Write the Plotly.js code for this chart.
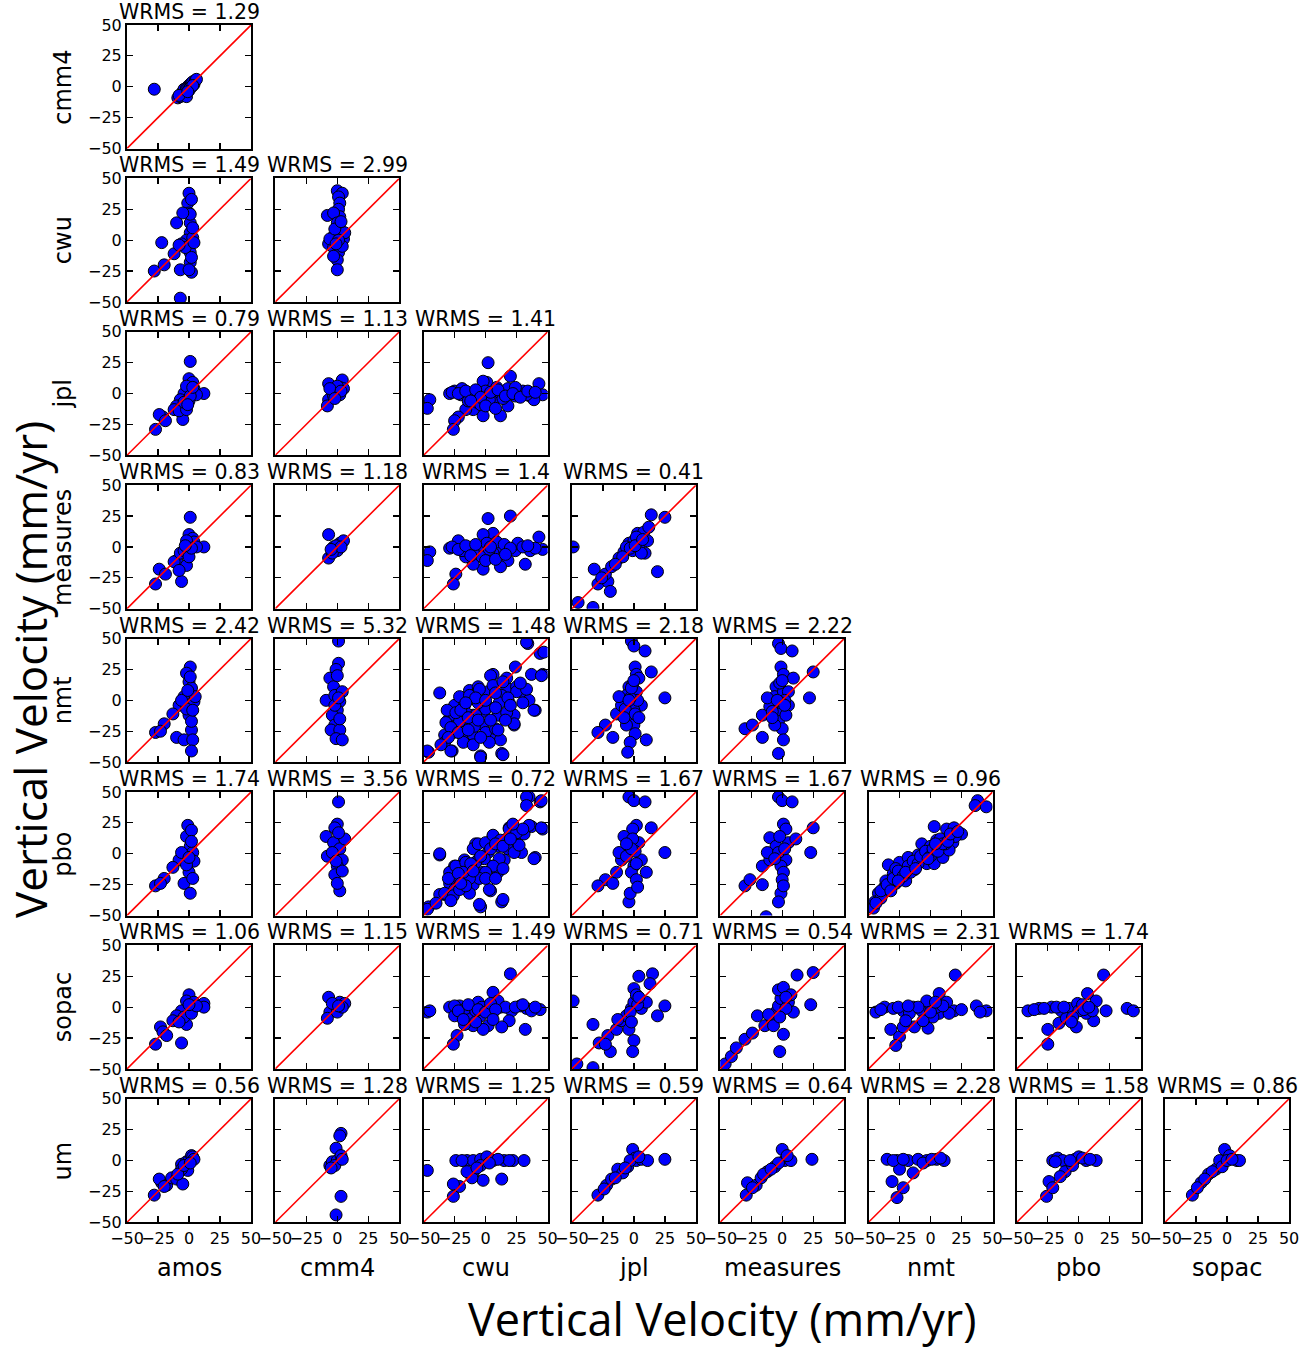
<!DOCTYPE html>
<html>
<head>
<meta charset="utf-8">
<script src="https://cdn.plot.ly/plotly-3.0.1.min.js"></script>
<style>
html,body{margin:0;padding:0;background:#fff;}
#chart{width:1300px;height:1371px;}
</style>
</head>
<body>
<div id="chart"></div>
<script>
// ---------------- DATA ----------------
const rowNames = ['cmm4','cwu','jpl','measures','nmt','pbo','sopac','um'];
const colNames = ['amos','cmm4','cwu','jpl','measures','nmt','pbo','sopac'];
const tickValues = [-50,-25,0,25,50];
const wrmsRow1 = ['1.29'];
const wrmsRow2 = ['1.49','2.99'];
const wrmsRow3 = ['0.79','1.13','1.41'];
const wrmsRow4 = ['0.83','1.18','1.4','0.41'];
const wrmsRow5 = ['2.42','5.32','1.48','2.18','2.22'];
const wrmsRow6 = ['1.74','3.56','0.72','1.67','1.67','0.96'];
const wrmsRow7 = ['1.06','1.15','1.49','0.71','0.54','2.31','1.74'];
const wrmsRow8 = ['0.56','1.28','1.25','0.59','0.64','2.28','1.58','0.86'];

// each pair is [x (column solution), y (row solution)] in mm/yr
const cmm4_amos = [[-28,-2],[-9,-9],[-7,-8],[-6,-6],[-5,-4],[-4,-2],[-3,-5],[-2,-1],[-1,0],[0,1],[0,-3],[1,2],[2,0],[2,3],[3,4],[4,2],[5,5],[6,6],[-4,-7],[1,-1],[3,1],[-2,-8],[-8,-7],[-1,-4]];

const cwu_amos = [[-28,-25],[-20,-20],[-22,-2],[-10,14],[-12,-11],[-7,-47],[-7,-24],[0,38],[-1,30],[0,22],[1,14],[1,6],[2,0],[1,-10],[1,-18],[2,-26],[-2,0],[-6,-3],[-3,-6],[1,21],[2,33],[3,2],[4,-2],[-5,22],[-8,-4],[0,-24],[3,10],[2,-14]];
const cwu_cmm4 = [[0,40],[4,38],[1,35],[2,30],[1,25],[2,19],[-8,20],[-3,22],[0,14],[2,9],[2,3],[-3,3],[-7,-3],[-3,-6],[1,-10],[0,-16],[0,-24],[5,1],[6,6],[-6,1],[4,-5],[-3,-13],[1,0],[-2,9],[3,15],[-1,-3]];

const jpl_amos = [[1,26],[0,12],[3,9],[12,0],[1,2],[-4,0],[-7,-5],[-10,-10],[-12,-13],[-5,-21],[-8,-14],[-21,-19],[-24,-17],[-19,-22],[-27,-29],[-2,-13],[0,-6],[4,4],[-2,6],[-4,-7],[6,-1],[1,-2],[3,5],[-1,-9]];
const jpl_cmm4 = [[-7,8],[4,11],[2,5],[-1,2],[-4,-1],[-7,-5],[-8,-10],[2,-1],[-3,-2],[5,4],[0,6],[-6,4],[3,2],[-2,-4]];
const jpl_cwu = [[-45,-5],[-47,-12],[-29,0],[-25,2],[-19,4],[-13,0],[-7,-1],[-3,2],[1,9],[-2,10],[2,25],[6,-2],[12,0],[18,4],[20,14],[24,-2],[30,2],[36,-2],[43,8],[46,-1],[39,-5],[18,-10],[12,-18],[-2,-18],[-10,-13],[-16,-13],[-22,-19],[-25,-22],[-26,-29],[-7,-7],[6,-7],[-10,-3],[24,5],[-20,-1],[3,-5],[9,5],[-4,-9],[-14,-6],[14,-4],[0,2],[-27,1],[33,-1],[-22,0],[-16,2],[-8,3],[-4,-3],[4,1],[10,3],[16,-2],[22,0],[28,-3],[34,2],[40,1],[-12,-6],[0,-10],[8,-12]];

const measures_amos = [[1,24],[0,10],[3,7],[12,0],[-6,-28],[-27,-30],[-24,-18],[-19,-22],[-10,-11],[-12,-12],[-7,-5],[-4,-3],[0,-3],[1,3],[4,4],[-2,5],[-2,-15],[-8,-19],[0,-8],[6,0],[2,-1],[-3,1]];
const measures_cmm4 = [[-7,10],[4,4],[2,3],[-3,0],[-7,-9],[0,-3],[5,5],[-4,-5],[-1,1],[3,0],[-5,-2]];
const measures_cwu = [[-45,-4],[-47,-11],[-29,-1],[-22,5],[-13,-1],[2,23],[20,25],[6,11],[-2,10],[12,0],[24,-3],[32,-14],[43,8],[46,-2],[36,-3],[18,-11],[12,-16],[-2,-18],[-10,-14],[-24,-22],[-26,-30],[-7,-5],[6,-5],[-16,-8],[-5,0],[1,3],[9,4],[-19,-3],[26,3],[30,0],[-3,-8],[15,2],[-10,-4],[3,-2],[-27,0],[40,-1],[-22,-2],[-16,1],[-8,2],[4,0],[20,-1],[34,1],[-12,-7],[0,-11],[8,-10],[16,-6]];
const measures_jpl = [[-49,0],[-45,-45],[-33,-49],[-32,-18],[-29,-30],[-21,-28],[-19,-36],[-23,-22],[-18,-16],[-12,-9],[-8,-4],[-4,3],[0,5],[3,11],[8,12],[12,16],[14,26],[25,24],[19,-20],[9,-5],[-1,-3],[-6,0],[5,3],[11,5],[-9,-8],[-15,-14],[2,8],[6,-5],[-3,-1],[1,1],[7,6],[-26,-25]];

const nmt_amos = [[1,27],[-2,22],[0,15],[2,10],[-4,3],[-8,-4],[-13,-11],[-20,-19],[-27,-26],[-23,-25],[-10,-30],[-4,-32],[2,-24],[3,-32],[2,-41],[0,-12],[4,-1],[-2,-7],[2,-17],[5,3],[-6,0],[-1,8],[1,19],[3,-8]];
const nmt_cmm4 = [[1,48],[1,30],[-1,25],[-6,18],[-3,11],[-9,0],[-2,4],[2,-1],[0,-8],[-4,-12],[-2,-20],[-5,-24],[2,-24],[-1,-31],[4,-32],[4,7],[-2,-4],[2,-15],[0,20],[1,2]];
const nmt_cwu = [[34,46],[44,38],[46,21],[37,21],[24,27],[6,21],[-37,6],[-25,-4],[-31,-17],[-33,-28],[-46,-42],[-27,-41],[-4,-45],[13,-43],[23,-20],[40,-8],[29,7],[17,10],[12,0],[2,-5],[-10,-12],[-17,-17],[-2,-20],[6,-30],[-10,-28],[-19,-28],[-13,8],[-6,11],[2,7],[-6,0],[-17,-4],[-25,-12],[10,-12],[19,-2],[25,11],[35,0],[23,-12],[-31,-8],[-21,3],[-10,4],[17,18],[13,4],[-2,-9],[-33,-34],[33,47],[47,39],[45,20],[4,20],[-13,4],[-5,9],[6,12],[14,15],[25,7],[33,9],[39,-8],[23,-19],[12,-32],[14,-44],[-4,-46],[-28,-41],[-47,-41],[-32,-18],[-21,-17],[-9,-21],[0,-26],[-18,-34],[-10,-36],[3,-34],[8,-23],[17,-10],[11,-2],[0,-7],[-6,-2],[-16,-10],[-26,-26],[18,2],[30,-2],[-8,-12],[-24,-10],[-20,-8],[-14,-14],[-6,-16],[4,-16],[8,-6],[-28,-22],[-22,-26],[-14,-24],[-4,-30],[10,-24],[20,-4],[28,14],[-8,2],[0,0],[8,6],[-16,-2],[-30,-30],[-36,-36],[16,-16]];
const nmt_jpl = [[-2,48],[0,44],[9,40],[1,27],[2,21],[14,23],[25,2],[-4,11],[-6,4],[2,7],[6,-4],[0,-8],[-2,-15],[0,-20],[1,-27],[10,-32],[-3,-34],[-5,-42],[-14,-11],[-23,-20],[-29,-26],[-17,-30],[-10,-4],[-12,3],[4,18],[-7,-7],[3,0],[-1,13],[1,-11],[-3,2],[-2,10],[0,16],[4,-14],[-6,-20],[-8,-14],[-4,0]];
const nmt_measures = [[-3,46],[-1,42],[8,40],[-1,27],[1,21],[25,23],[22,2],[-5,11],[-6,3],[1,7],[5,-4],[0,-9],[-3,-17],[0,-23],[1,-32],[-3,-43],[-16,-12],[-30,-23],[-24,-20],[-16,-30],[-10,-5],[-12,2],[9,18],[-8,-9],[5,7],[2,0],[-2,14],[-1,-2],[3,-12],[-4,0],[2,-4],[0,16],[-6,-20],[-8,-14]];

const pbo_amos = [[-1,23],[-2,14],[1,6],[3,1],[-4,-2],[-8,-5],[-13,-11],[-20,-20],[-27,-26],[-23,-24],[-4,-24],[1,-32],[0,-15],[4,-6],[-2,-9],[2,19],[-6,1],[2,10],[0,-3],[3,-20]];
const pbo_cmm4 = [[1,42],[0,24],[-2,21],[-9,14],[-3,9],[-8,-2],[2,4],[4,-5],[0,-10],[-2,-17],[2,-30],[0,-24],[-4,1],[6,12],[4,-14],[1,17],[-1,-6]];
const pbo_cwu = [[35,46],[44,42],[46,20],[37,22],[19,21],[-37,-1],[-46,-43],[-4,-43],[13,-39],[40,-3],[-25,-10],[-33,-33],[-37,-33],[-29,-24],[-21,-21],[-10,-25],[-15,-13],[-6,-5],[2,1],[10,6],[17,12],[25,9],[31,16],[6,14],[-8,8],[-17,-5],[6,-10],[15,-5],[-2,-15],[4,-30],[-13,-32],[-25,-29],[29,1],[10,-15],[-12,-17],[-19,-10],[33,46],[33,39],[45,43],[45,21],[35,23],[-37,0],[39,-4],[14,-37],[-5,-41],[-47,-45],[-33,-32],[-26,-34],[-21,-29],[-29,-15],[-24,-10],[-16,-7],[-10,4],[-6,8],[0,9],[6,15],[12,11],[19,20],[25,17],[18,4],[11,-4],[6,-10],[0,-15],[-5,-20],[-13,-20],[3,-29],[-16,-26],[14,-12],[23,1],[-1,-4],[-8,-7],[-18,-15],[27,7],[-30,-20],[-22,-16],[-12,-8],[-4,-2],[4,4],[8,8],[14,6],[20,12],[-20,-24],[-10,-14],[0,-20],[8,-20],[-28,-38],[-40,-40],[30,20],[22,24]];
const pbo_jpl = [[-4,46],[0,43],[9,42],[2,23],[-1,20],[14,21],[25,1],[-8,14],[-4,6],[4,9],[6,-5],[0,-10],[-2,-15],[2,-21],[-4,-39],[-3,-32],[-14,-15],[-23,-21],[-29,-26],[-17,-24],[-10,-5],[-12,1],[10,-15],[-6,-2],[1,2],[-1,12],[3,-27],[-2,4],[2,-8],[-6,8]];
const pbo_measures = [[-3,46],[0,43],[8,42],[1,24],[3,20],[25,21],[23,1],[-10,13],[-5,6],[5,9],[3,-5],[-1,-10],[1,-15],[-1,-32],[-3,-39],[-16,-10],[-30,-26],[-26,-21],[-16,-25],[-10,-5],[-12,1],[11,12],[-13,-51],[-3,1],[0,-21],[2,4],[-2,14],[-6,-4],[1,-26]];
const pbo_nmt = [[38,43],[36,39],[45,38],[3,22],[13,20],[19,21],[25,16],[18,9],[9,5],[-1,1],[-7,8],[-6,-3],[-11,-5],[-15,-9],[-22,-11],[-34,-9],[-25,-7],[-30,-16],[-33,-22],[-37,-27],[-42,-32],[-45,-39],[-46,-44],[-28,-24],[-20,-22],[-13,-13],[-3,-8],[3,-8],[10,-3],[15,3],[5,11],[-18,-3],[-24,-19],[-36,-22],[-38,-32],[-10,-1],[0,6],[8,12],[20,14],[-28,-12],[-16,-15],[-5,-2],[12,8],[-40,-36],[-40,-30],[-35,-25],[-30,-20],[-26,-14],[-22,-18],[-18,-10],[-14,-6],[-10,-8],[-8,-2],[-4,2],[0,-2],[2,4],[6,2],[10,8],[14,10],[16,16],[22,18],[-32,-30],[-44,-40],[-20,-15],[-12,-12],[-2,-4],[4,8],[-26,-22]];

const sopac_amos = [[0,10],[-2,5],[4,4],[12,3],[12,0],[2,0],[-6,-3],[-10,-7],[-13,-11],[-23,-16],[-21,-20],[-18,-23],[-27,-30],[-6,-29],[-2,-14],[-4,-8],[2,-5],[6,1],[0,2],[-8,-12]];
const sopac_cmm4 = [[-7,8],[2,4],[6,3],[-2,0],[-6,-4],[-8,-9],[0,-4],[4,0],[-4,3],[1,1]];
const sopac_cwu = [[-47,-4],[-45,-3],[-29,0],[-21,1],[-10,0],[2,1],[6,12],[20,27],[12,0],[21,-3],[33,-1],[44,-2],[37,-3],[19,-11],[32,-18],[13,-16],[2,-15],[-10,-15],[-17,-14],[-23,-23],[-26,-30],[-13,-7],[-4,-7],[-6,4],[10,5],[-25,-7],[-2,-18],[-16,-1],[-25,1],[28,1],[-3,0],[6,-4],[-8,-3],[16,0],[-22,-3],[-14,2],[-6,-2],[0,-4],[4,3],[8,-2],[24,0],[30,2],[40,0],[-18,-10],[-8,-12],[6,-10]];
const sopac_jpl = [[-49,5],[-46,-46],[-33,-49],[-33,-14],[-28,-29],[-19,-36],[-21,-23],[-23,-30],[-14,-18],[-10,-11],[-6,-7],[-2,-1],[0,4],[0,15],[4,25],[15,27],[13,19],[25,1],[19,-7],[6,-1],[0,-27],[-1,-36],[10,4],[2,10],[-4,-18],[-13,-10],[3,2],[-3,-4],[-2,-12],[4,8]];
const sopac_measures = [[-46,-46],[-41,-40],[-37,-33],[-30,-26],[-24,-21],[-20,-7],[-14,-15],[-8,-10],[-5,-4],[-3,1],[-1,7],[-3,14],[1,16],[12,26],[25,28],[23,2],[5,4],[7,10],[1,-22],[-2,-36],[-7,-15],[9,-4],[3,-1],[-11,-6],[-2,-8],[3,8]];
const sopac_nmt = [[20,26],[-44,-4],[-37,0],[-30,-1],[-22,-3],[-14,0],[-7,-3],[-1,3],[7,11],[13,4],[19,-3],[25,-2],[37,1],[45,-3],[-32,-18],[-25,-24],[-28,-31],[-13,-16],[-2,-17],[7,-5],[2,-8],[-6,-11],[5,0],[-17,-5],[-3,5],[15,-5],[-22,-16],[-20,-11],[-40,-2],[40,-4],[-10,0],[10,1],[-26,0],[-18,1],[0,-4],[4,4]];
const sopac_pbo = [[20,26],[-41,-3],[-32,-1],[-22,0],[-14,-3],[-8,-1],[-1,3],[7,11],[14,5],[22,-3],[39,-1],[44,-3],[-25,-18],[-25,-30],[-16,-13],[-2,-16],[12,-11],[6,-5],[-10,-9],[0,-3],[-18,0],[11,-3],[-36,-2],[3,2],[-5,-8],[-28,-1],[-12,0],[4,-2],[8,0],[-6,-12]];

const um_amos = [[-28,-28],[-22,-18],[-24,-15],[-18,-20],[-14,-14],[-10,-15],[-5,-19],[-6,-3],[-2,-1],[0,0],[2,4],[3,3],[-1,-8],[-6,-7],[-9,-11],[-4,-4],[4,1],[-20,-21],[1,-2]];
const um_cmm4 = [[3,22],[2,20],[-1,10],[3,-29],[-1,-44],[-6,-4],[-4,-1],[0,0],[3,4],[-2,-4],[4,1],[-5,-6]];
const um_cwu = [[-47,-8],[-24,0],[-15,0],[-10,0],[-4,1],[1,3],[6,0],[15,0],[22,0],[31,0],[19,0],[13,-15],[-2,-16],[-10,-10],[-11,-14],[-21,-21],[-26,-19],[-26,-29],[-4,-4],[-15,-9],[-7,-6],[10,1],[-19,0],[3,-2]];
const um_jpl = [[-29,-28],[-22,-20],[-18,-15],[-13,-7],[-9,-10],[-5,-5],[-1,9],[1,2],[2,0],[6,1],[11,0],[25,1],[-3,0],[-15,-14],[-7,-6],[-24,-23],[4,3]];
const um_measures = [[-29,-28],[-28,-18],[-21,-20],[-17,-14],[-12,-9],[-6,-5],[0,9],[2,0],[7,0],[24,1],[-3,-2],[4,4],[-15,-11],[-24,-22],[-9,-7]];
const um_nmt = [[-35,1],[-27,0],[-18,0],[-10,1],[-3,0],[11,0],[5,1],[-25,-7],[-31,-17],[-22,-22],[-27,-30],[-14,-10],[-6,-2],[1,1],[-30,0],[-22,1],[8,2]];
const um_pbo = [[-21,0],[-17,2],[-13,0],[-3,1],[0,3],[14,0],[6,0],[-24,-17],[-26,-29],[-21,-22],[-11,-9],[-5,-4],[-7,0],[-15,-13],[-19,-1],[3,2],[9,1]];
const um_sopac = [[-28,-28],[-21,-18],[-15,-11],[-9,-7],[-6,0],[-2,9],[2,4],[8,0],[10,0],[-4,-5],[-24,-22],[0,0],[4,1],[-12,-9],[-18,-15]];

const panelRows = [
  [cmm4_amos],
  [cwu_amos, cwu_cmm4],
  [jpl_amos, jpl_cmm4, jpl_cwu],
  [measures_amos, measures_cmm4, measures_cwu, measures_jpl],
  [nmt_amos, nmt_cmm4, nmt_cwu, nmt_jpl, nmt_measures],
  [pbo_amos, pbo_cmm4, pbo_cwu, pbo_jpl, pbo_measures, pbo_nmt],
  [sopac_amos, sopac_cmm4, sopac_cwu, sopac_jpl, sopac_measures, sopac_nmt, sopac_pbo],
  [um_amos, um_cmm4, um_cwu, um_jpl, um_measures, um_nmt, um_pbo, um_sopac]
];
const wrmsRows = [wrmsRow1, wrmsRow2, wrmsRow3, wrmsRow4, wrmsRow5, wrmsRow6, wrmsRow7, wrmsRow8];

// ---------------- LAYOUT ----------------
const W = 1300, H = 1371;
const colLeft0 = 127, colStep = 148.3, panelW = 124;
const rowTop0 = 25, rowStep = 153.4, panelH = 123.5;
const tickFont = {family: 'DejaVu Sans', size: 16, color: '#000'};

const traces = [];
const layout = {
  width: W, height: H,
  margin: {l: 0, r: 0, t: 0, b: 0},
  paper_bgcolor: '#fff', plot_bgcolor: '#fff',
  showlegend: false,
  annotations: []
};

let n = 0;
panelRows.forEach((rowPanels, r) => {
  rowPanels.forEach((pts, c) => {
    n += 1;
    const xa = n === 1 ? 'x' : 'x' + n;
    const ya = n === 1 ? 'y' : 'y' + n;
    const xk = n === 1 ? 'xaxis' : 'xaxis' + n;
    const yk = n === 1 ? 'yaxis' : 'yaxis' + n;
    const left = colLeft0 + c * colStep;
    const top = rowTop0 + r * rowStep;
    const axBase = {
      range: [-50, 50], autorange: false,
      tickmode: 'array', tickvals: tickValues, tickangle: 0,
      ticks: 'inside', ticklen: 6, tickwidth: 1.2, tickcolor: '#000',
      showline: true, linecolor: '#000', linewidth: 2, mirror: 'ticks',
      showgrid: false, zeroline: false, fixedrange: true,
      tickfont: tickFont
    };
    layout[xk] = Object.assign({}, axBase, {
      domain: [left / W, (left + panelW) / W],
      anchor: ya,
      showticklabels: r === panelRows.length - 1
    });
    layout[yk] = Object.assign({}, axBase, {
      domain: [(H - top - panelH) / H, (H - top) / H],
      anchor: xa,
      showticklabels: c === 0
    });
    traces.push({
      type: 'scatter', mode: 'markers', xaxis: xa, yaxis: ya,
      x: pts.map(p => p[0]), y: pts.map(p => p[1]),
      marker: {color: '#0000ff', size: 12, line: {color: '#000', width: 1}},
      cliponaxis: true, hoverinfo: 'skip'
    });
    traces.push({
      type: 'scatter', mode: 'lines', xaxis: xa, yaxis: ya,
      x: [-50, 50], y: [-50, 50],
      line: {color: '#ff0000', width: 1.6}, hoverinfo: 'skip'
    });
    layout.annotations.push({
      text: 'WRMS = ' + wrmsRows[r][c],
      xref: 'paper', yref: 'paper',
      x: (left + panelW / 2) / W, y: (H - top - 1) / H,
      xanchor: 'center', yanchor: 'bottom', showarrow: false,
      font: {family: 'DejaVu Sans', size: 20.5, color: '#000'}
    });
  });
});

// row labels
rowNames.forEach((name, r) => {
  const top = rowTop0 + r * rowStep;
  layout.annotations.push({
    text: name, xref: 'paper', yref: 'paper',
    x: 63 / W, y: (H - top - panelH / 2) / H,
    xanchor: 'center', yanchor: 'middle', textangle: -90, showarrow: false,
    font: {family: 'DejaVu Sans', size: 24, color: '#000'}
  });
});
// column labels
colNames.forEach((name, c) => {
  const left = colLeft0 + c * colStep;
  layout.annotations.push({
    text: name, xref: 'paper', yref: 'paper',
    x: (left + panelW / 2) / W, y: (H - 1268) / H,
    xanchor: 'center', yanchor: 'middle', showarrow: false,
    font: {family: 'DejaVu Sans', size: 24, color: '#000'}
  });
});
// overall axis titles
layout.annotations.push({
  text: 'Vertical Velocity (mm/yr)', xref: 'paper', yref: 'paper',
  x: 723 / W, y: (H - 1318) / H, xanchor: 'center', yanchor: 'middle', showarrow: false,
  font: {family: 'Open Sans', size: 45, color: '#000'}
});
layout.annotations.push({
  text: 'Vertical Velocity (mm/yr)', xref: 'paper', yref: 'paper',
  x: 30 / W, y: (H - 670) / H, xanchor: 'center', yanchor: 'middle', textangle: -90, showarrow: false,
  font: {family: 'Open Sans', size: 44, color: '#000'}
});

Plotly.newPlot('chart', traces, layout, {displayModeBar: false, staticPlot: true});
</script>
</body>
</html>
